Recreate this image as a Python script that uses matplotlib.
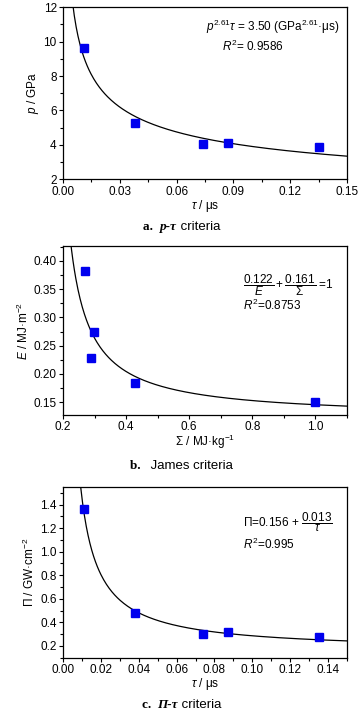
import numpy as np
import matplotlib.pyplot as plt
from matplotlib.ticker import MultipleLocator, AutoMinorLocator

plt.rcParams['font.family'] = ['Liberation Sans', 'DejaVu Sans']
plt.rcParams['mathtext.fontset'] = 'custom'
plt.rcParams['mathtext.rm'] = 'Liberation Sans'
plt.rcParams['mathtext.it'] = 'Liberation Sans:italic'
plt.rcParams['mathtext.bf'] = 'Liberation Sans:bold'
plt.rcParams['font.size'] = 8.5

# data: p-tau
tau_a = [0.011, 0.038, 0.074, 0.087, 0.135]
p_a = [9.6, 5.25, 4.05, 4.1, 3.85]
# data: James
sigma_b = [0.27, 0.298, 0.29, 0.427, 1.0]
e_b = [0.383, 0.275, 0.228, 0.184, 0.150]
# data: Pi-tau
tau_c = [0.011, 0.038, 0.074, 0.087, 0.135]
pi_c = [1.36, 0.48, 0.305, 0.315, 0.28]

fig = plt.figure(figsize=(3.63, 7.2), dpi=100)
blue = '#0000ee'


def style(ax):
    for s in ax.spines.values():
        s.set_linewidth(0.9)
    ax.tick_params(which='major', direction='out', length=3, width=0.8, pad=1.5, labelsize=8.5)
    ax.tick_params(which='minor', direction='out', length=2, width=0.8)
    ax.xaxis.set_minor_locator(AutoMinorLocator(2))
    ax.yaxis.set_minor_locator(AutoMinorLocator(2))


def caption(y, tag, sym, rest):
    serif = ['Liberation Serif']
    t1 = fig.text(0.40, y, tag + '  ', ha='left', va='baseline', fontsize=9.5,
                  family=serif, weight='bold')
    t2 = fig.text(0, 0, sym, fontsize=9.5, family=serif, weight='bold', style='italic')
    t3 = fig.text(0, 0, ' ' + rest, fontsize=9.5, family=['Liberation Sans'])
    r = fig.canvas.get_renderer()
    w = sum(t.get_window_extent(r).width for t in (t1, t2, t3))
    x0 = 0.5 - w / 2 / fig.bbox.width
    t1.set_position((x0, y))
    r1 = t1.get_window_extent(r)
    t2.set_position((x0 + r1.width / fig.bbox.width, y))
    r2 = t2.get_window_extent(r)
    t3.set_position((x0 + (r1.width + r2.width) / fig.bbox.width, y))
    for t in (t2, t3):
        t.set_va('baseline')


# a. p-tau criteria
ax1 = fig.add_axes([0.1736, 0.751, 0.7824, 0.239])
t = np.linspace(0.004, 0.15, 300)
ax1.plot(t, (3.50 / t) ** (1 / 2.61), color='black', lw=0.9)
ax1.plot(tau_a, p_a, 's', color=blue, ms=5.3)
ax1.set_xlim(0, 0.15)
ax1.set_ylim(2, 12)
ax1.xaxis.set_major_locator(MultipleLocator(0.03))
ax1.yaxis.set_major_locator(MultipleLocator(2))
ax1.xaxis.set_major_formatter(lambda v, pos: f'{v:.2f}')
style(ax1)
ax1.set_xlabel(r'$\tau$ / μs', labelpad=0)
ax1.set_ylabel(r'$p$ / GPa', labelpad=2)
ax1.text(0.505, 0.86, r'$p^{2.61}\tau$ = 3.50 (GPa$^{2.61}$·μs)', transform=ax1.transAxes, fontsize=8.5)
ax1.text(0.56, 0.745, r'$R^2$= 0.9586', transform=ax1.transAxes, fontsize=8.5)
caption(1 - 230 / 720, 'a.', 'p-τ', 'criteria')

# b. James criteria
ax2 = fig.add_axes([0.1736, 0.424, 0.7824, 0.234])
s = np.linspace(0.2, 1.1, 400)
e = 0.122 / (1 - 0.161 / s)
ax2.plot(s, e, color='black', lw=0.9)
ax2.plot(sigma_b, e_b, 's', color=blue, ms=5.3)
ax2.set_xlim(0.2, 1.1)
ax2.set_ylim(0.1277, 0.426)
ax2.xaxis.set_major_locator(MultipleLocator(0.2))
ax2.yaxis.set_major_locator(MultipleLocator(0.05))
ax2.xaxis.set_major_formatter(lambda v, pos: f'{v:.1f}')
ax2.yaxis.set_major_formatter(lambda v, pos: f'{v:.2f}')
style(ax2)
ax2.set_xlabel(r'$\Sigma$ / MJ·kg$^{-1}$', labelpad=0)
ax2.set_ylabel(r'$E$ / MJ·m$^{-2}$', labelpad=2)
ax2.text(0.635, 0.75, r'$\dfrac{0.122}{E}+\dfrac{0.161}{\Sigma}$ =1', transform=ax2.transAxes, fontsize=8.5)
ax2.text(0.635, 0.62, r'$R^2$=0.8753', transform=ax2.transAxes, fontsize=8.5)
caption(1 - 469 / 720, 'b.', '', 'James criteria')

# c. Pi-tau criteria
ax3 = fig.add_axes([0.1736, 0.0865, 0.7824, 0.2365])
t = np.linspace(0.005, 0.15, 300)
ax3.plot(t, 0.156 + 0.013 / t, color='black', lw=0.9)
ax3.plot(tau_c, pi_c, 's', color=blue, ms=5.3)
ax3.set_xlim(0, 0.15)
ax3.set_ylim(0.1, 1.545)
ax3.xaxis.set_major_locator(MultipleLocator(0.02))
ax3.yaxis.set_major_locator(MultipleLocator(0.2))
ax3.xaxis.set_major_formatter(lambda v, pos: f'{v:.2f}')
ax3.yaxis.set_major_formatter(lambda v, pos: f'{v:.1f}')
style(ax3)
ax3.set_xlabel(r'$\tau$ / μs', labelpad=0)
ax3.set_ylabel(r'$\Pi$ / GW·cm$^{-2}$', labelpad=2)
ax3.text(0.635, 0.77, r'$\Pi$=0.156 + $\dfrac{0.013}{\tau}$', transform=ax3.transAxes, fontsize=8.5)
ax3.text(0.635, 0.64, r'$R^2$=0.995', transform=ax3.transAxes, fontsize=8.5)
caption(1 - 708 / 720, 'c.', 'Π-τ', 'criteria')

fig.savefig('out.png', dpi=100)
